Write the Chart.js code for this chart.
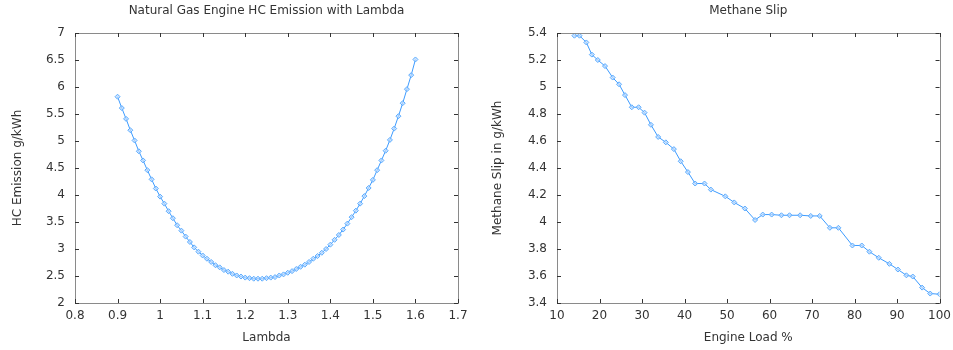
<!DOCTYPE html>
<html>
<head>
<meta charset="utf-8">
<script src="https://cdn.jsdelivr.net/npm/chart.js@4/dist/chart.umd.min.js"></script>
<style>
  html, body { margin: 0; background: #fff; overflow: hidden; }
  .box { position: absolute; top: 0; height: 350px; }
</style>
</head>
<body>
<div class="box" style="left:0;width:476px"><canvas id="hcChart"></canvas></div>
<div class="box" style="left:476px;width:481px"><canvas id="slipChart"></canvas></div>
<script>
// left chart: HC emission vs lambda
const lambdaValues = [0.90, 0.91, 0.92, 0.93, 0.94, 0.95, 0.96, 0.97, 0.98, 0.99,
    1.00, 1.01, 1.02, 1.03, 1.04, 1.05, 1.06, 1.07, 1.08, 1.09,
    1.10, 1.11, 1.12, 1.13, 1.14, 1.15, 1.16, 1.17, 1.18, 1.19,
    1.20, 1.21, 1.22, 1.23, 1.24, 1.25, 1.26, 1.27, 1.28, 1.29,
    1.30, 1.31, 1.32, 1.33, 1.34, 1.35, 1.36, 1.37, 1.38, 1.39,
    1.40, 1.41, 1.42, 1.43, 1.44, 1.45, 1.46, 1.47, 1.48, 1.49,
    1.50, 1.51, 1.52, 1.53, 1.54, 1.55, 1.56, 1.57, 1.58, 1.59, 1.60]
const hcEmission = [5.82, 5.61, 5.41, 5.20, 5.01, 4.81, 4.64, 4.46, 4.29, 4.12,
    3.97, 3.84, 3.70, 3.57, 3.44, 3.34, 3.23, 3.13, 3.03, 2.95,
    2.88, 2.82, 2.76, 2.70, 2.66, 2.61, 2.58, 2.54, 2.51, 2.49,
    2.47, 2.46, 2.45, 2.45, 2.45, 2.46, 2.47, 2.48, 2.51, 2.53,
    2.56, 2.59, 2.63, 2.67, 2.71, 2.76, 2.82, 2.87, 2.93, 3.00,
    3.08, 3.17, 3.26, 3.36, 3.47, 3.59, 3.71, 3.84, 3.98, 4.13,
    4.28, 4.46, 4.64, 4.82, 5.02, 5.23, 5.46, 5.70, 5.96, 6.22, 6.51]

// right chart: methane slip vs engine load
const engineLoad = [14.1, 15.3, 16.9, 18.2, 19.6, 21.3, 23.1, 24.6, 26.0, 27.6,
    29.2, 30.6, 32.1, 33.8, 35.6, 37.5, 39.1, 40.8, 42.5, 44.7,
    46.2, 49.6, 51.7, 54.2, 56.6, 58.4, 60.5, 62.8, 64.7, 67.2,
    69.7, 71.8, 74.2, 76.2, 79.5, 81.7, 83.5, 85.7, 88.2, 90.2,
    92.2, 93.7, 95.9, 97.8, 100]
const methaneSlip = [5.38, 5.38, 5.33, 5.24, 5.20, 5.155, 5.07, 5.02, 4.94, 4.85,
    4.85, 4.81, 4.72, 4.63, 4.59, 4.54, 4.45, 4.37, 4.285, 4.285,
    4.24, 4.19, 4.145, 4.10, 4.015, 4.055, 4.055, 4.05, 4.05, 4.05,
    4.045, 4.045, 3.957, 3.957, 3.826, 3.826, 3.78, 3.735, 3.69, 3.648,
    3.605, 3.596, 3.514, 3.47, 3.465]

const textColor = '#333'
const fontFamily = 'DejaVu Sans'

function fmt(v){
    return Number(v.toFixed(2)).toString()
}

// gnuplot style frame with small inward ticks on all four sides
const framePlugin = {
    id: 'frame',
    afterDraw(chart){
        const ctx = chart.ctx
        const a = chart.chartArea
        ctx.save()
        ctx.strokeStyle = '#8a8a8a'
        ctx.lineWidth = 1
        ctx.strokeRect(Math.round(a.left)+0.5, Math.round(a.top)+0.5, Math.round(a.right-a.left), Math.round(a.bottom-a.top))
        ctx.strokeStyle = '#333'
        const len = 4
        chart.scales.x.ticks.forEach(t => {
            const px = Math.round(chart.scales.x.getPixelForValue(t.value)) + 0.5
            ctx.beginPath()
            ctx.moveTo(px, a.bottom); ctx.lineTo(px, a.bottom - len)
            ctx.moveTo(px, a.top); ctx.lineTo(px, a.top + len)
            ctx.stroke()
        })
        chart.scales.y.ticks.forEach(t => {
            const py = Math.round(chart.scales.y.getPixelForValue(t.value)) + 0.5
            ctx.beginPath()
            ctx.moveTo(a.left, py); ctx.lineTo(a.left + len, py)
            ctx.moveTo(a.right, py); ctx.lineTo(a.right - len, py)
            ctx.stroke()
        })
        ctx.restore()
    }
}

function makeChart(id, xs, ys, opt){
    const points = xs.map((x, i) => ({x: x, y: ys[i]}))
    return new Chart(document.getElementById(id), {
        type: 'scatter',
        data: {
            datasets: [{
                data: points,
                showLine: true,
                borderColor: '#3d9bff',
                borderWidth: 1,
                pointStyle: 'rectRot',
                pointRadius: 2.5,
                pointBorderWidth: 1,
                pointBorderColor: '#5aabff',
                pointBackgroundColor: 'rgba(190,220,255,0.7)'
            }]
        },
        options: {
            responsive: true,
            maintainAspectRatio: false,
            animation: false,
            layout: {padding: {left: 0, right: opt.padRight, top: 0, bottom: 0}},
            plugins: {
                legend: {display: false},
                tooltip: {enabled: false},
                title: {
                    display: true,
                    fullSize: false,
                    text: opt.title,
                    color: textColor,
                    font: {family: fontFamily, size: 12, weight: 'normal'},
                    padding: {top: 4, bottom: 14.6}
                }
            },
            scales: {
                x: {
                    type: 'linear',
                    min: opt.xMin, max: opt.xMax,
                    grid: {display: false, drawTicks: false},
                    border: {display: false},
                    ticks: {
                        stepSize: opt.xStep,
                        color: textColor,
                        padding: 6,
                        font: {family: fontFamily, size: 12},
                        callback: v => fmt(v)
                    },
                    title: {
                        display: true,
                        text: opt.xTitle,
                        color: textColor,
                        font: {family: fontFamily, size: 12},
                        padding: {top: 0, bottom: 5}
                    },
                    afterFit: s => { s.height = 47 }
                },
                y: {
                    type: 'linear',
                    min: opt.yMin, max: opt.yMax,
                    grid: {display: false, drawTicks: false},
                    border: {display: false},
                    ticks: {
                        stepSize: opt.yStep,
                        color: textColor,
                        padding: 10,
                        font: {family: fontFamily, size: 12},
                        callback: v => fmt(v)
                    },
                    title: {
                        display: true,
                        text: opt.yTitle,
                        color: textColor,
                        font: {family: fontFamily, size: 12},
                        padding: {top: opt.yTitlePad, bottom: 0}
                    },
                    afterFit: s => { s.width = opt.axisWidth }
                }
            }
        },
        plugins: [framePlugin]
    })
}

makeChart('hcChart', lambdaValues, hcEmission, {
    title: 'Natural Gas Engine HC Emission with Lambda',
    xTitle: 'Lambda', yTitle: 'HC Emission g/kWh',
    xMin: 0.8, xMax: 1.7, xStep: 0.1,
    yMin: 2, yMax: 7, yStep: 0.5,
    axisWidth: 75, padRight: 18, yTitlePad: 11
})

makeChart('slipChart', engineLoad, methaneSlip, {
    title: 'Methane Slip',
    xTitle: 'Engine Load %', yTitle: 'Methane Slip in g/kWh',
    xMin: 10, xMax: 100, xStep: 10,
    yMin: 3.4, yMax: 5.4, yStep: 0.2,
    axisWidth: 81, padRight: 10, yTitlePad: 15
})
</script>
</body>
</html>
